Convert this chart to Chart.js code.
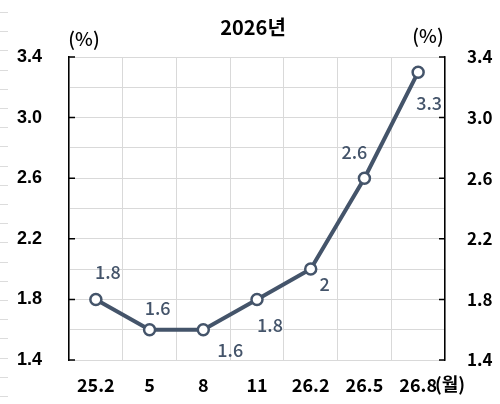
<!DOCTYPE html>
<html>
<head>
<meta charset="utf-8">
<script src="https://cdn.jsdelivr.net/npm/chart.js@4.4.0/dist/chart.umd.min.js"></script>
<style>
  html, body { margin: 0; padding: 0; background: #fff; }
  #wrap { width: 500px; height: 404px; }
</style>
</head>
<body>
<div id="wrap"><canvas id="chart" width="500" height="404"></canvas></div>
<script>
const categories = ['25.2', '5', '8', '11', '26.2', '26.5', '26.8'];
const rates = [1.8, 1.6, 1.6, 1.8, 2, 2.6, 3.3];
const yMin = 1.4;
const yMax = 3.4;
const chartTitle = '2026년';
const unitLabel = '(%)';
const monthLabel = '(월)';

// where each value label sits relative to its point (dx, dy)
const labelOffsets = [[12, -27], [8, -22], [27, 20], [13, 26], [14, 15], [-10, -26], [11, 31]];

const lineColor = '#44546a';
const gridColor = '#d9d9d9';
const cjk = "'Noto Sans CJK KR', sans-serif";

function isLabelled(v) {
    return Math.round(v * 10) % 4 === 2;
}

const decorPlugin = {
    id: 'decor',
    beforeDraw(chart) {
        const ctx = chart.ctx;
        ctx.save();
        ctx.strokeStyle = '#dcdcdc';
        ctx.lineWidth = 1;
        for (let y = 12; y < 404; y += 19.2) {
            ctx.beginPath();
            ctx.moveTo(0, Math.round(y) + 0.5);
            ctx.lineTo(8, Math.round(y) + 0.5);
            ctx.stroke();
        }
        ctx.restore();
    },
    afterDraw(chart) {
        const ctx = chart.ctx;
        const area = chart.chartArea;
        const yScale = chart.scales.y;
        const xScale = chart.scales.x;
        ctx.save();
        // inward tick marks on both axes
        ctx.strokeStyle = '#000';
        ctx.lineWidth = 1.5;
        yScale.ticks.forEach(t => {
            if (!isLabelled(t.value)) return;
            const py = yScale.getPixelForValue(t.value);
            ctx.beginPath();
            ctx.moveTo(area.left, py);
            ctx.lineTo(area.left + 6, py);
            ctx.moveTo(area.right, py);
            ctx.lineTo(area.right - 6, py);
            ctx.stroke();
        });
        ctx.textAlign = 'center';
        ctx.textBaseline = 'middle';
        ctx.fillStyle = '#000';
        ctx.font = 'bold 20px ' + cjk;
        ctx.fillText(chartTitle, 253, 27);
        ctx.font = '500 19px ' + cjk;
        ctx.fillText(unitLabel, 84, 39);
        ctx.fillText(unitLabel, 428, 36);
        ctx.textAlign = 'left';
        ctx.font = 'bold 18px ' + cjk;
        const lastX = xScale.getPixelForValue(categories.length - 1);
        const lastW = ctx.measureText(categories[categories.length - 1]).width;
        ctx.fillText(monthLabel, lastX + lastW / 2 - 2, 384);
        // value labels
        const meta = chart.getDatasetMeta(0);
        ctx.textAlign = 'center';
        ctx.fillStyle = lineColor;
        ctx.font = '500 18px ' + cjk;
        meta.data.forEach((pt, i) => {
            const off = labelOffsets[i];
            ctx.fillText(String(rates[i]), pt.x + off[0], pt.y + off[1]);
        });
        ctx.restore();
    }
};

new Chart(document.getElementById('chart'), {
    type: 'line',
    data: {
        labels: categories,
        datasets: [{
            data: rates,
            borderColor: lineColor,
            borderWidth: 4,
            pointRadius: 5.5,
            pointBorderWidth: 2.5,
            pointBackgroundColor: '#fff',
            pointBorderColor: lineColor,
            tension: 0,
            yAxisID: 'y'
        }]
    },
    options: {
        responsive: false,
        animation: false,
        layout: { padding: { top: 57, left: 0, right: 0, bottom: 0 } },
        plugins: {
            legend: { display: false },
            tooltip: { enabled: false }
        },
        scales: {
            x: {
                offset: true,
                grid: { offset: true, color: gridColor, lineWidth: 1, drawTicks: false },
                border: { display: false },
                ticks: {
                    color: '#000',
                    padding: 14,
                    font: { family: cjk, size: 18, weight: 'bold' }
                },
                afterFit(scale) { scale.height = 44; }
            },
            y: {
                position: 'left',
                min: yMin,
                max: yMax,
                grid: { color: gridColor, lineWidth: 1, drawTicks: false },
                border: { display: true, color: '#000', width: 1.5 },
                ticks: {
                    stepSize: 0.2,
                    color: '#000',
                    padding: 27,
                    font: { family: "'Liberation Sans', Arial, sans-serif", size: 18, weight: 'bold' },
                    callback: v => isLabelled(v) ? v.toFixed(1) : ''
                },
                afterFit(scale) { scale.width = 69; }
            },
            y2: {
                position: 'right',
                min: yMin,
                max: yMax,
                grid: { display: false, drawTicks: false },
                border: { display: true, color: '#000', width: 1.5 },
                ticks: {
                    stepSize: 0.2,
                    color: '#000',
                    padding: 22,
                    font: { family: cjk, size: 17, weight: 'bold' },
                    callback: v => isLabelled(v) ? v.toFixed(1) : ''
                },
                afterFit(scale) { scale.width = 55; }
            }
        }
    },
    plugins: [decorPlugin]
});
</script>
</body>
</html>
